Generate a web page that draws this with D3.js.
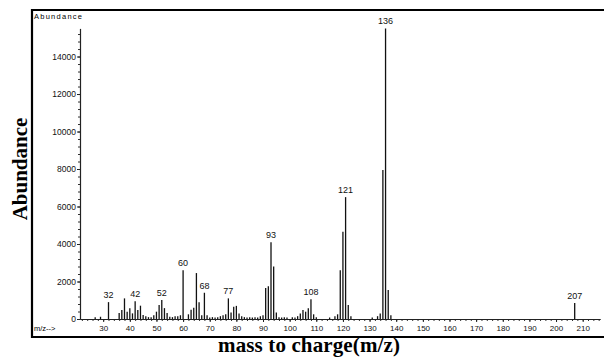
<!DOCTYPE html>
<html>
<head>
<meta charset="utf-8">
<script src="https://d3js.org/d3.v7.min.js"></script>
<style>
    body { margin: 0; background: #fff; }
    svg { display: block; }
    .tick text { font-family: Arial, "Liberation Sans", sans-serif; fill: #111; }
    .title { font-family: "Liberation Serif", "Times New Roman", serif; font-weight: bold; fill: #000; }
</style>
</head>
<body>
<svg id="chart" width="604" height="357"></svg>
<script>
    // m/z values and their abundance
    const mz = [27, 29, 32, 36, 37, 38, 39, 40, 41, 42, 43, 44, 45, 46, 47, 48, 49,
                50, 51, 52, 53, 54, 55, 56, 57, 58, 59, 60, 62, 63, 64, 65, 66, 67, 68, 69,
                70, 71, 72, 73, 74, 75, 76, 77, 78, 79, 80, 81, 82, 83, 84, 85, 86, 87, 88, 89,
                90, 91, 92, 93, 94, 95, 96, 97, 98, 99, 101, 102, 103, 104, 105, 106, 107, 108, 109, 110,
                115, 117, 118, 119, 120, 121, 122, 123, 131, 133, 134, 135, 136, 137, 138, 207];
    const abundance = [100, 120, 900, 320, 480, 1100, 390, 580, 300, 950, 480, 710, 210, 150, 100, 100, 200,
                390, 750, 1010, 580, 320, 120, 100, 150, 150, 200, 2600, 250, 500, 600, 2450, 900, 200, 1400, 200,
                80, 100, 80, 100, 150, 200, 250, 1100, 350, 650, 700, 300, 150, 100, 80, 100, 80, 100, 80, 150,
                200, 1650, 1750, 4100, 2800, 350, 100, 80, 100, 80, 100, 80, 150, 300, 480, 390, 570, 1050, 250, 100,
                80, 150, 250, 2600, 4650, 6500, 750, 150, 80, 150, 300, 7950, 15500, 1550, 200, 850];

    // peaks carrying an m/z label
    const labelled = [32, 42, 52, 60, 68, 77, 93, 108, 121, 136, 207];

    const xTicks = d3.range(30, 211, 10);
    const yTicks = [0, 2000, 4000, 6000, 8000, 10000, 12000, 14000];

    const peaks = mz.map((m, i) => ({ m: m, v: abundance[i] }));

    const svg = d3.select("#chart");

    const x = d3.scaleLinear().domain([21.3, 216.5]).range([80, 600]);
    const y = d3.scaleLinear().domain([0, 15500]).range([319, 28.4]);

    // frame around the plot (open on the right)
    svg.append("path")
        .attr("d", "M604,10H32V337H604")
        .attr("fill", "none")
        .attr("stroke", "#000")
        .attr("stroke-width", 2.2);

    // y axis, minor ticks first
    svg.append("g")
        .attr("transform", "translate(80,0)")
        .call(d3.axisLeft(y).tickValues(d3.range(0, 15500, 400)).tickSize(2).tickSizeOuter(0).tickFormat(""))
        .call(g => g.selectAll("line,path").attr("stroke", "#333"));

    svg.append("g")
        .attr("transform", "translate(80,0)")
        .call(d3.axisLeft(y).tickValues(yTicks).tickSize(3).tickPadding(1).tickSizeOuter(0).tickFormat(d3.format("d")))
        .call(g => g.select(".domain").attr("stroke", "#222").attr("stroke-width", 1.2))
        .call(g => g.selectAll(".tick line").attr("stroke", "#222"))
        .call(g => g.selectAll(".tick text").attr("font-size", 8.5));

    // x axis
    svg.append("g")
        .attr("transform", "translate(0,319)")
        .call(d3.axisBottom(x).tickValues(d3.range(22, 217, 2)).tickSize(2).tickSizeOuter(0).tickFormat(""))
        .call(g => g.selectAll("line,path").attr("stroke", "#333"));

    svg.append("g")
        .attr("transform", "translate(0,319)")
        .call(d3.axisBottom(x).tickValues(xTicks).tickSize(3).tickPadding(3).tickSizeOuter(0))
        .call(g => g.select(".domain").attr("stroke", "#222").attr("stroke-width", 1.2))
        .call(g => g.selectAll(".tick line").attr("stroke", "#222"))
        .call(g => g.selectAll(".tick text").attr("font-size", 8));

    // spectrum sticks
    svg.append("g")
        .selectAll("line")
        .data(peaks)
        .join("line")
        .attr("x1", d => x(d.m))
        .attr("x2", d => x(d.m))
        .attr("y1", y(0))
        .attr("y2", d => y(d.v))
        .attr("stroke", "#111")
        .attr("stroke-width", 1.3);

    // peak labels
    svg.append("g")
        .selectAll("text")
        .data(peaks.filter(d => labelled.includes(d.m)))
        .join("text")
        .attr("x", d => x(d.m))
        .attr("y", d => y(d.v) - 4)
        .attr("text-anchor", "middle")
        .attr("font-family", "Arial, 'Liberation Sans', sans-serif")
        .attr("font-size", 9)
        .attr("fill", "#111")
        .text(d => d.m);

    // small texts inside the frame
    svg.append("text")
        .attr("x", 34).attr("y", 19)
        .attr("font-family", "Arial, 'Liberation Sans', sans-serif")
        .attr("font-size", 7.5)
        .attr("textLength", 48)
        .text("Abundance");

    svg.append("text")
        .attr("x", 34).attr("y", 331)
        .attr("font-family", "Arial, 'Liberation Sans', sans-serif")
        .attr("font-size", 7.5)
        .text("m/z-->");

    // axis titles
    svg.append("text")
        .attr("class", "title")
        .attr("x", 309).attr("y", 352)
        .attr("text-anchor", "middle")
        .attr("font-size", 21)
        .attr("textLength", 182)
        .text("mass to charge(m/z)");

    svg.append("text")
        .attr("class", "title")
        .attr("transform", "translate(27,169) rotate(-90)")
        .attr("text-anchor", "middle")
        .attr("font-size", 21)
        .text("Abundance");
</script>
</body>
</html>
